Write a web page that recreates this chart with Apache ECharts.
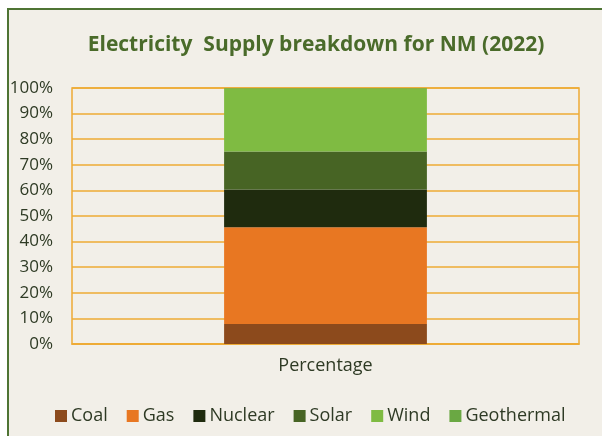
<!DOCTYPE html>
<html>
<head>
<meta charset="utf-8">
<script src="https://cdn.jsdelivr.net/npm/echarts@6/dist/echarts.min.js"></script>
<style>
  html, body { margin: 0; padding: 0; background: #ffffff; }
  #chart { width: 602px; height: 436px; }
</style>
</head>
<body>
<div id="chart"></div>
<script>
// data
var categories = ['Percentage'];
var seriesNames = ['Coal', 'Gas', 'Nuclear', 'Solar', 'Wind', 'Geothermal'];
var seriesValues = [7.8, 37.8, 14.8, 14.8, 24.6, 0.2];
var seriesColors = ['#8c4a1c', '#e87722', '#1f2b0e', '#476424', '#7fbb42', '#6aa843'];
var yTicks = [0, 10, 20, 30, 40, 50, 60, 70, 80, 90, 100];

var textColor = '#2e3a24';
var gridColor = '#eeab35';
var fontName = 'Open Sans';

var chart = echarts.init(document.getElementById('chart'));

var series = seriesNames.map(function (name, i) {
    return {
        name: name,
        type: 'bar',
        stack: 'total',
        barWidth: '40%',
        itemStyle: { color: seriesColors[i] },
        data: [seriesValues[i]]
    };
});

var option = {
    backgroundColor: '#ffffff',
    animation: false,
    graphic: [{
        type: 'rect',
        z: -10,
        silent: true,
        shape: { x: 8, y: 9, width: 640, height: 480 },
        style: { fill: '#f2efe8', stroke: '#4f7434', lineWidth: 2 }
    }],
    title: {
        text: 'Electricity  Supply breakdown for NM (2022)',
        left: 311,
        textAlign: 'center',
        top: 30,
        textStyle: {
            color: '#4a6b2a',
            fontFamily: fontName,
            fontWeight: 'bold',
            fontSize: 21
        }
    },
    legend: {
        data: seriesNames,
        left: 50,
        top: 402,
        itemWidth: 12,
        itemHeight: 12,
        itemGap: 19,
        icon: 'rect',
        textStyle: { color: textColor, fontFamily: fontName, fontSize: 18, padding: [0, 0, 0, -1] }
    },
    grid: {
        left: 72,
        right: 23,
        top: 88,
        bottom: 92,
        show: true,
        borderColor: gridColor,
        borderWidth: 1.5,
        backgroundColor: 'transparent'
    },
    xAxis: {
        type: 'category',
        data: categories,
        axisLine: { show: true, lineStyle: { color: gridColor, width: 1.5 } },
        axisTick: { show: false },
        axisLabel: { color: textColor, fontFamily: fontName, fontSize: 18, margin: 13 }
    },
    yAxis: {
        type: 'value',
        min: yTicks[0],
        max: yTicks[yTicks.length - 1],
        interval: 10,
        axisLine: { show: false },
        axisTick: { show: false },
        splitLine: { lineStyle: { color: gridColor, width: 1.5 } },
        axisLabel: {
            color: textColor,
            fontFamily: fontName,
            fontSize: 17,
            margin: 19,
            formatter: '{value}%'
        }
    },
    series: series
};

chart.setOption(option);
</script>
</body>
</html>
